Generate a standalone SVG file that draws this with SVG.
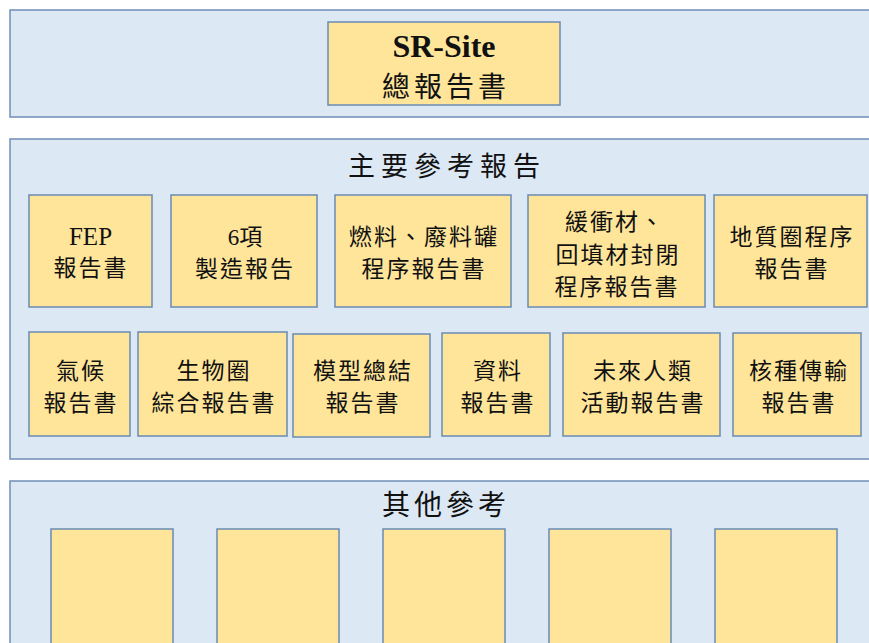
<svg xmlns="http://www.w3.org/2000/svg" width="869" height="643" viewBox="0 0 869 643">
<style>
.panel{fill:#dde8f5;stroke:#6f8fb6;stroke-width:1.5}
.box{fill:#ffe59a;stroke:#6a8ab2;stroke-width:1.5}
.t{font-family:"Liberation Serif","Noto Sans CJK TC",serif;font-size:23px;fill:#111;text-anchor:middle;letter-spacing:2px}
.title{font-family:"Liberation Serif","Noto Sans CJK TC",serif;font-size:27px;fill:#111;text-anchor:middle;letter-spacing:6px}
.big{font-family:"Liberation Serif","Noto Sans CJK TC",serif;font-size:32px;font-weight:bold;fill:#111;text-anchor:middle}
</style>
<rect width="869" height="643" fill="#ffffff"/>
<g id="panel-top"><rect class="panel" x="10" y="10" width="870" height="107"/></g>
<g id="panel-main"><rect class="panel" x="10" y="139" width="870" height="320"/>
<text class="title" x="447" y="176">主要參考報告</text></g>
<g id="panel-other"><rect class="panel" x="10" y="481" width="870" height="180"/>
<text class="title" x="446" y="515" style="font-size:28px;letter-spacing:4px">其他參考</text></g>

<g id="sr-site"><rect class="box" x="328" y="22" width="232" height="83"/>
<text class="big" x="444" y="57">SR-Site</text>
<text class="t" x="446" y="97" style="font-size:28px;letter-spacing:4px">總報告書</text></g>

<g id="fep"><rect class="box" x="29" y="195" width="123" height="112"/>
<text class="t" x="90.5" y="245" style="font-size:25px;letter-spacing:0">FEP</text>
<text class="t" x="91" y="276">報告書</text></g>
<g id="manufacture"><rect class="box" x="171" y="195" width="146" height="112"/>
<text class="t" x="245" y="245" style="letter-spacing:0">6項</text>
<text class="t" x="245" y="277">製造報告</text></g>
<g id="fuel"><rect class="box" x="335" y="195" width="176" height="112"/>
<text class="t" x="424" y="245">燃料、廢料罐</text>
<text class="t" x="424" y="277">程序報告書</text></g>
<g id="buffer"><rect class="box" x="528" y="195" width="177" height="112"/>
<text class="t" x="615" y="230">緩衝材、</text>
<text class="t" x="618" y="263">回填材封閉</text>
<text class="t" x="617" y="295">程序報告書</text></g>
<g id="geosphere"><rect class="box" x="714" y="195" width="153" height="112"/>
<text class="t" x="792" y="245">地質圈程序</text>
<text class="t" x="792" y="277">報告書</text></g>

<g id="climate"><rect class="box" x="29" y="332" width="101" height="104"/>
<text class="t" x="81" y="379">氣候</text>
<text class="t" x="81" y="411">報告書</text></g>
<g id="biosphere"><rect class="box" x="138" y="332" width="149" height="104"/>
<text class="t" x="214" y="379">生物圈</text>
<text class="t" x="214" y="411">綜合報告書</text></g>
<g id="model"><rect class="box" x="293" y="334" width="137" height="103"/>
<text class="t" x="363" y="379">模型總結</text>
<text class="t" x="363" y="411">報告書</text></g>
<g id="data"><rect class="box" x="442" y="333" width="108" height="103"/>
<text class="t" x="498" y="379">資料</text>
<text class="t" x="498" y="411">報告書</text></g>
<g id="future"><rect class="box" x="563" y="333" width="157" height="103"/>
<text class="t" x="643" y="379">未來人類</text>
<text class="t" x="643" y="411">活動報告書</text></g>
<g id="nuclide"><rect class="box" x="733" y="333" width="128" height="103"/>
<text class="t" x="799" y="379">核種傳輸</text>
<text class="t" x="799" y="411">報告書</text></g>

<g id="other-1"><rect class="box" x="51" y="529" width="122" height="130"/></g>
<g id="other-2"><rect class="box" x="217" y="529" width="122" height="130"/></g>
<g id="other-3"><rect class="box" x="383" y="529" width="122" height="130"/></g>
<g id="other-4"><rect class="box" x="549" y="529" width="122" height="130"/></g>
<g id="other-5"><rect class="box" x="715" y="529" width="122" height="130"/></g>
</svg>
